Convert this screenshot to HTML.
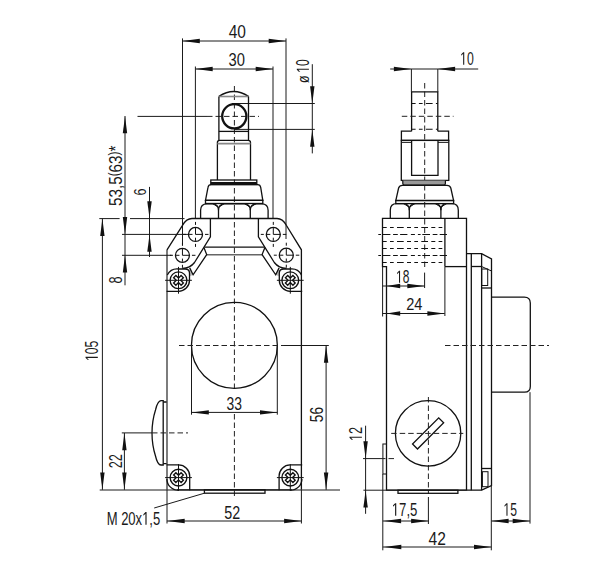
<!DOCTYPE html>
<html><head><meta charset="utf-8"><style>
html,body{margin:0;padding:0;background:#fff;}
svg{display:block;}
.k{fill:none;stroke:#111;stroke-width:1.3;}
.kb{fill:none;stroke:#111;stroke-width:1.9;}
.kc{fill:none;stroke:#111;stroke-width:2.3;}
.kp{fill:none;stroke:#111;stroke-width:1.35;}
.k1{fill:none;stroke:#111;stroke-width:1;}
.kf{fill:#999;stroke:#111;stroke-width:1.2;}
.kg{fill:none;stroke:#777;stroke-width:1.3;}
.g{fill:none;stroke:#1a1a1a;stroke-width:1;}
.kg2{fill:none;stroke:#666;stroke-width:1.5;}
.kL{fill:none;stroke:#111;stroke-width:1.1;}
.gd{fill:none;stroke:#333;stroke-width:1.2;}
.g2{fill:none;stroke:#888;stroke-width:1.6;}
.c{fill:none;stroke:#222;stroke-width:1;stroke-dasharray:5.5 3;}
.c2{fill:none;stroke:#222;stroke-width:1;stroke-dasharray:5 2.5;}
.h{fill:none;stroke:#111;stroke-width:1.1;stroke-dasharray:4 3.3 3.7 3.3 6.7 3.3;}
.h2{fill:none;stroke:#111;stroke-width:1.1;stroke-dasharray:2.7 1.7 7.7 2.7 4.7 2.3 7.3 3.5 4 3;}
.ar{fill:#111;stroke:none;}
.tp{fill:#1a1a1a;stroke:none;}
.tx{font-family:"Liberation Sans",sans-serif;font-size:100px;fill:#1a1a1a;}
</style></head><body>
<svg width="616" height="569" viewBox="0 0 616 569">
<line class="g" x1="182.5" y1="38.4" x2="182.5" y2="245.3"/>
<line class="g" x1="286.0" y1="38.4" x2="286.0" y2="239"/>
<line class="g" x1="182.5" y1="41.0" x2="286.0" y2="41.0"/>
<polygon class="ar" points="182.50,41.00 199.80,38.80 199.80,43.20"/>
<polygon class="ar" points="286.00,41.00 268.70,38.80 268.70,43.20"/>
<g transform="translate(228.69,37.60) scale(0.1552,0.1757)"><text class="tx">40</text></g>
<line class="g" x1="195.4" y1="66.5" x2="195.4" y2="218.4"/>
<line class="g" x1="273.0" y1="66.5" x2="273.0" y2="218.4"/>
<line class="g" x1="195.4" y1="69.0" x2="273.0" y2="69.0"/>
<polygon class="ar" points="195.40,69.00 212.70,66.80 212.70,71.20"/>
<polygon class="ar" points="273.00,69.00 255.70,66.80 255.70,71.20"/>
<g transform="translate(228.61,65.70) scale(0.1476,0.1757)"><text class="tx">30</text></g>
<line class="g" x1="232" y1="103.5" x2="314.8" y2="103.5"/>
<line class="g" x1="234" y1="129.4" x2="314.8" y2="129.4"/>
<line class="g" x1="312.3" y1="64.2" x2="312.3" y2="153.4"/>
<polygon class="ar" points="312.30,103.50 310.10,86.20 314.50,86.20"/>
<polygon class="ar" points="312.30,129.40 310.10,146.70 314.50,146.70"/>
<g transform="translate(308.90,72.81) rotate(-90) scale(0.1206,0.1757)"><text class="tx"> 0</text><path class="tp" d="M515 0V1237L197 1010V1180L530 1409H696V0Z" transform="translate(0.000,0) scale(0.048828,-0.048828)"/></g>
<g transform="translate(308.88,83.07) rotate(-90) scale(0.1236,0.1589)"><text class="tx">ø</text></g>
<line class="g" x1="137.5" y1="116.4" x2="207" y2="116.4"/>
<line class="c" x1="207" y1="116.4" x2="259" y2="116.4"/>
<line class="c" x1="234.4" y1="86" x2="234.4" y2="392"/>
<line class="c" x1="234.4" y1="414" x2="234.4" y2="496"/>
<path class="k" d="M218.9,96.4 Q233.7,86.6 248.5,96.4"/>
<line class="g2" x1="218.9" y1="96.5" x2="248.5" y2="96.5"/>
<path class="k" d="M218.9,96.4 V140.4 M248.5,96.4 V140.4"/>
<line class="k" x1="218.9" y1="131.4" x2="248.5" y2="131.4"/>
<path class="k" d="M217.4,180 V142.6 Q217.4,140.4 219.6,140.4 H248.3 Q250.5,140.4 250.5,142.6 V180"/>
<line class="g2" x1="217.4" y1="143.6" x2="250.5" y2="143.6"/>
<circle class="kc" cx="234.3" cy="116.3" r="12.1"/>
<rect class="k" x="210.8" y="180" width="46" height="4.5"/>
<line class="kb" x1="210.8" y1="183" x2="256.8" y2="183"/>
<path class="k" d="M205.5,200.3 L208,187.4 Q208.4,184.6 211.2,184.6 H257.5 Q260.3,184.6 260.7,187.4 L262.8,200.3 Z"/>
<rect class="k" x="205.5" y="200.3" width="57.3" height="3.2"/>
<path class="k" d="M200.6,218.4 V210.3 Q200.6,203.8 207.1,203.8 H212.0 Q218.5,203.8 218.5,210.3 V218.4"/>
<path class="k" d="M218.5,210.3 Q218.5,203.8 225.0,203.8 H243.8 Q250.3,203.8 250.3,210.3 V218.4"/>
<path class="k" d="M250.3,210.3 Q250.3,203.8 256.8,203.8 H261.6 Q268.1,203.8 268.1,210.3 V218.4"/>
<path class="k1" d="M213.0,203.8 L218.5,207.3 L224.0,203.8 M244.8,203.8 L250.3,207.3 L255.8,203.8"/>
<line class="g" x1="99.3" y1="218.6" x2="119.6" y2="218.6"/>
<line class="g" x1="130" y1="218.6" x2="184.5" y2="218.6"/>
<line class="g" x1="122" y1="234.4" x2="188.5" y2="234.4"/>
<line class="g" x1="122" y1="255.3" x2="171.5" y2="255.3"/>
<path class="k" d="M192,218.5 H277 C281.5,218.5 284,221 286.3,225.3 L301.4,249.8 V489.8"/>
<path class="kL" d="M167.0,489.8 V249.8"/>
<path class="k" d="M167.0,249.8 L182.5,225.3 C185,221 187.5,218.5 192,218.5"/>
<line class="k" x1="177" y1="489.8" x2="291.8" y2="489.8"/>
<line class="k" x1="204.6" y1="247.2" x2="264.2" y2="247.2"/>
<line class="kg2" x1="206.7" y1="254.7" x2="262.1" y2="254.7"/>
<path class="k" d="M210.4,218.5 V236.9 L194.5,262.5 Q190,268.3 182.3,268.3"/>
<polygon points="189.7,268 193.1,274.8 190,276.2" fill="#bbb" stroke="none"/>
<path class="k" d="M203.9,247.4 L206.7,254.6 L193.1,274.8 L189.7,267.9"/>
<path class="k" d="M167.3,275 A11.3,11.3 0 0 1 178.5,269 H185 Q189.5,269 189.5,273 V280.3 A11,11 0 0 1 178.5,291.3 H166.6"/>
<circle class="kp" cx="178.5" cy="280.3" r="8.4"/>
<path class="kp" d="M181.12,275.42 L183.38,277.68 L180.76,280.30 L183.38,282.92 L181.12,285.18 L178.50,282.56 L175.88,285.18 L173.62,282.92 L176.24,280.30 L173.62,277.68 L175.88,275.42 L178.50,278.04 Z"/>
<line class="k1" x1="165.1" y1="280.3" x2="191.9" y2="280.3"/>
<line class="k1" x1="178.5" y1="266.90000000000003" x2="178.5" y2="293.7"/>
<g transform="translate(468.8,0) scale(-1,1)">
<path class="k" d="M210.4,218.5 V236.9 L194.5,262.5 Q190,268.3 182.3,268.3"/>
<polygon points="189.7,268 193.1,274.8 190,276.2" fill="#bbb" stroke="none"/>
<path class="k" d="M203.9,247.4 L206.7,254.6 L193.1,274.8 L189.7,267.9"/>
<path class="k" d="M167.3,275 A11.3,11.3 0 0 1 178.5,269 H185 Q189.5,269 189.5,273 V280.3 A11,11 0 0 1 178.5,291.3 H166.6"/>
<circle class="kp" cx="178.5" cy="280.3" r="8.4"/>
<path class="kp" d="M181.12,275.42 L183.38,277.68 L180.76,280.30 L183.38,282.92 L181.12,285.18 L178.50,282.56 L175.88,285.18 L173.62,282.92 L176.24,280.30 L173.62,277.68 L175.88,275.42 L178.50,278.04 Z"/>
<line class="k1" x1="165.1" y1="280.3" x2="191.9" y2="280.3"/>
<line class="k1" x1="178.5" y1="266.90000000000003" x2="178.5" y2="293.7"/>
</g>
<circle class="k" cx="195.5" cy="234.4" r="7.0"/>
<path class="k1" d="M195.5,227.4 V234.4 H202.5"/>
<line class="k1" x1="189.1" y1="234.4" x2="192.5" y2="234.4"/>
<line class="k1" x1="195.5" y1="237.70000000000002" x2="195.5" y2="240.8"/>
<line class="k1" x1="183.0" y1="234.4" x2="186.0" y2="234.4"/>
<line class="k1" x1="205.0" y1="234.4" x2="208.5" y2="234.4"/>
<line class="k1" x1="195.5" y1="221.9" x2="195.5" y2="224.9"/>
<line class="k1" x1="195.5" y1="243.9" x2="195.5" y2="246.9"/>
<circle class="k" cx="182.45" cy="255.3" r="7.0"/>
<path class="k1" d="M182.45,248.3 V255.3 H189.45"/>
<line class="k1" x1="176.04999999999998" y1="255.3" x2="179.45" y2="255.3"/>
<line class="k1" x1="182.45" y1="258.6" x2="182.45" y2="261.7"/>
<line class="k1" x1="169.95" y1="255.3" x2="172.95" y2="255.3"/>
<line class="k1" x1="191.95" y1="255.3" x2="195.45" y2="255.3"/>
<line class="k1" x1="182.45" y1="242.8" x2="182.45" y2="245.8"/>
<line class="k1" x1="182.45" y1="264.8" x2="182.45" y2="267.8"/>
<circle class="k" cx="273.3" cy="234.4" r="7.0"/>
<path class="k1" d="M273.3,227.4 V234.4 H280.3"/>
<line class="k1" x1="266.90000000000003" y1="234.4" x2="270.3" y2="234.4"/>
<line class="k1" x1="273.3" y1="237.70000000000002" x2="273.3" y2="240.8"/>
<line class="k1" x1="260.8" y1="234.4" x2="263.8" y2="234.4"/>
<line class="k1" x1="282.8" y1="234.4" x2="286.3" y2="234.4"/>
<line class="k1" x1="273.3" y1="221.9" x2="273.3" y2="224.9"/>
<line class="k1" x1="273.3" y1="243.9" x2="273.3" y2="246.9"/>
<circle class="k" cx="286.3" cy="255.2" r="7.0"/>
<path class="k1" d="M286.3,248.2 V255.2 H293.3"/>
<line class="k1" x1="279.90000000000003" y1="255.2" x2="283.3" y2="255.2"/>
<line class="k1" x1="286.3" y1="258.5" x2="286.3" y2="261.59999999999997"/>
<line class="k1" x1="273.8" y1="255.2" x2="276.8" y2="255.2"/>
<line class="k1" x1="295.8" y1="255.2" x2="299.3" y2="255.2"/>
<line class="k1" x1="286.3" y1="242.7" x2="286.3" y2="245.7"/>
<line class="k1" x1="286.3" y1="264.7" x2="286.3" y2="267.7"/>
<circle class="k" cx="234.4" cy="345.35" r="42.95"/>
<line class="c" x1="179" y1="345.5" x2="284" y2="345.5"/>
<line class="g" x1="284" y1="345.5" x2="328.8" y2="345.5"/>
<line class="g" x1="191.5" y1="345.5" x2="191.5" y2="414.7"/>
<line class="g" x1="277.3" y1="345.5" x2="277.3" y2="414.7"/>
<line class="g" x1="191.5" y1="412.4" x2="277.3" y2="412.4"/>
<polygon class="ar" points="191.50,412.40 208.80,410.20 208.80,414.60"/>
<polygon class="ar" points="277.30,412.40 260.00,410.20 260.00,414.60"/>
<g transform="translate(226.54,409.70) scale(0.1388,0.1771)"><text class="tx">33</text></g>
<line class="g" x1="326.1" y1="345.5" x2="326.1" y2="489.8"/>
<polygon class="ar" points="326.10,345.50 323.90,362.80 328.30,362.80"/>
<polygon class="ar" points="326.10,489.80 323.90,472.50 328.30,472.50"/>
<g transform="translate(322.90,422.14) rotate(-90) scale(0.1359,0.1771)"><text class="tx">56</text></g>
<path class="k" d="M163.2,400.6 H161 Q157.5,401 155.5,410 Q152,421 152,433 Q152,445 155.5,456 Q157.5,465 161,465 H163.2 Z"/>
<path class="k" d="M163.2,402 H166.6 M163.2,463.6 H166.6"/>
<line class="g" x1="140" y1="432.9" x2="152" y2="432.9"/>
<line class="c" x1="152" y1="432.9" x2="188" y2="432.9"/>
<path class="k" d="M166.6,464.9 H178.5 A11.2,11.2 0 0 1 189.7,476.1 V490.2"/>
<path class="k" d="M166.9,478.9 A11.3,11.3 0 0 0 178.2,490.2"/>
<circle class="kp" cx="178.5" cy="477.6" r="8.4"/>
<path class="kp" d="M181.12,472.72 L183.38,474.98 L180.76,477.60 L183.38,480.22 L181.12,482.48 L178.50,479.86 L175.88,482.48 L173.62,480.22 L176.24,477.60 L173.62,474.98 L175.88,472.72 L178.50,475.34 Z"/>
<line class="k1" x1="165.1" y1="477.6" x2="191.9" y2="477.6"/>
<line class="k1" x1="178.5" y1="464.20000000000005" x2="178.5" y2="491.0"/>
<g transform="translate(468.8,0) scale(-1,1)">
<path class="k" d="M166.6,464.9 H178.5 A11.2,11.2 0 0 1 189.7,476.1 V490.2"/>
<path class="k" d="M166.9,478.9 A11.3,11.3 0 0 0 178.2,490.2"/>
<circle class="kp" cx="178.5" cy="477.6" r="8.4"/>
<path class="kp" d="M181.12,472.72 L183.38,474.98 L180.76,477.60 L183.38,480.22 L181.12,482.48 L178.50,479.86 L175.88,482.48 L173.62,480.22 L176.24,477.60 L173.62,474.98 L175.88,472.72 L178.50,475.34 Z"/>
<line class="k1" x1="165.1" y1="477.6" x2="191.9" y2="477.6"/>
<line class="k1" x1="178.5" y1="464.20000000000005" x2="178.5" y2="491.0"/>
</g>
<rect class="k" x="204.4" y="489.8" width="60.6" height="3.4"/>
<line class="g" x1="204.4" y1="493.2" x2="154.2" y2="508"/>
<g transform="translate(106.66,524.80) scale(0.1303,0.1843)"><text class="tx">M 20x ,5</text><path class="tp" d="M515 0V1237L197 1010V1180L530 1409H696V0Z" transform="translate(272.312,0) scale(0.048828,-0.048828)"/></g>
<line class="g" x1="99.7" y1="490.0" x2="340" y2="490.0"/>
<line class="g" x1="167.0" y1="489.8" x2="167.0" y2="523.5"/>
<line class="g" x1="301.4" y1="489.8" x2="301.4" y2="523.5"/>
<line class="g" x1="167.0" y1="521.0" x2="301.4" y2="521.0"/>
<polygon class="ar" points="167.40,521.00 184.70,518.80 184.70,523.20"/>
<polygon class="ar" points="301.40,521.00 284.10,518.80 284.10,523.20"/>
<g transform="translate(224.23,518.70) scale(0.1431,0.1843)"><text class="tx">52</text></g>
<line class="g" x1="102.4" y1="218.6" x2="102.4" y2="489.8"/>
<polygon class="ar" points="102.40,218.60 100.20,235.90 104.60,235.90"/>
<polygon class="ar" points="102.40,489.80 100.20,472.50 104.60,472.50"/>
<g transform="translate(97.80,361.02) rotate(-90) scale(0.1222,0.1786)"><text class="tx"> 05</text><path class="tp" d="M515 0V1237L197 1010V1180L530 1409H696V0Z" transform="translate(0.000,0) scale(0.048828,-0.048828)"/></g>
<line class="g" x1="124.4" y1="433" x2="124.4" y2="489.8"/>
<polygon class="ar" points="124.40,433.00 122.20,450.30 126.60,450.30"/>
<polygon class="ar" points="124.40,489.80 122.20,472.50 126.60,472.50"/>
<line class="g" x1="121.8" y1="432.9" x2="140" y2="432.9"/>
<g transform="translate(121.90,468.33) rotate(-90) scale(0.1267,0.1800)"><text class="tx">22</text></g>
<line class="g" x1="125.0" y1="116" x2="125.0" y2="285.3"/>
<polygon class="ar" points="125.00,116.00 122.80,133.30 127.20,133.30"/>
<polygon class="ar" points="125.00,234.40 122.80,217.10 127.20,217.10"/>
<polygon class="ar" points="125.00,255.30 122.80,272.60 127.20,272.60"/>
<g transform="translate(121.50,205.91) rotate(-90) scale(0.1523,0.1800)"><text class="tx">53,5<tspan font-size="77" dy="-15">(</tspan><tspan dy="15">63</tspan><tspan font-size="77" dy="-15">)</tspan><tspan dy="15">*</tspan></text></g>
<g transform="translate(121.90,283.41) rotate(-90) scale(0.1277,0.1771)"><text class="tx">8</text></g>
<line class="g" x1="149.5" y1="186.9" x2="149.5" y2="257"/>
<polygon class="ar" points="149.50,218.60 147.30,201.30 151.70,201.30"/>
<polygon class="ar" points="149.50,234.40 147.30,251.70 151.70,251.70"/>
<g transform="translate(145.80,195.43) rotate(-90) scale(0.1261,0.1729)"><text class="tx">6</text></g>
<line class="c" x1="424.7" y1="83" x2="424.7" y2="269"/>
<line class="c" x1="428.4" y1="397" x2="428.4" y2="494"/>
<line class="g" x1="411.4" y1="69" x2="411.4" y2="91.8"/>
<line class="g" x1="437.8" y1="69" x2="437.8" y2="91.8"/>
<line class="g" x1="390.2" y1="69.0" x2="478.2" y2="69.0"/>
<polygon class="ar" points="411.20,69.00 393.90,66.80 393.90,71.20"/>
<polygon class="ar" points="437.80,69.00 455.10,66.80 455.10,71.20"/>
<g transform="translate(460.07,64.80) scale(0.1227,0.1814)"><text class="tx"> 0</text><path class="tp" d="M515 0V1237L197 1010V1180L530 1409H696V0Z" transform="translate(0.000,0) scale(0.048828,-0.048828)"/></g>
<path class="k" d="M411.6,131.2 V91.8 H437.8 V131.2"/>
<line class="h" x1="411.6" y1="103.5" x2="437.8" y2="103.5"/>
<line class="h" x1="411.6" y1="129.3" x2="437.8" y2="129.3"/>
<line class="c" x1="401.8" y1="116.3" x2="453.5" y2="116.3"/>
<path class="k" d="M411.6,131.2 H401.4 V140.4 H448.6 V131.2 H437.8"/>
<rect class="k" x="401.3" y="140.4" width="47.5" height="40"/>
<path class="k" d="M411.6,140.4 V175.4 H438 V140.4"/>
<line class="g" x1="401.3" y1="142.4" x2="411.6" y2="142.4"/>
<line class="g" x1="438" y1="142.4" x2="448.8" y2="142.4"/>
<path class="kf" d="M402.8,180.4 V183.5 Q402.8,185.2 404.5,185.2 H443.7 Q445.4,185.2 445.4,183.5 V180.4"/>
<path class="k" d="M395.8,200.6 L398.6,188 Q399.5,185.3 402.5,185.3 H447 Q449.9,185.3 450.8,188 L453.6,200.6 Z"/>
<rect class="k" x="395.8" y="200.4" width="57.8" height="3.2"/>
<path class="k" d="M390.3,218.3 V210.2 Q390.3,203.7 396.8,203.7 H402.8 Q409.3,203.7 409.3,210.2 V218.3"/>
<path class="k" d="M409.3,210.2 Q409.3,203.7 415.8,203.7 H434.4 Q440.9,203.7 440.9,210.2 V218.3"/>
<path class="k" d="M440.9,210.2 Q440.9,203.7 447.4,203.7 H451.8 Q458.3,203.7 458.3,210.2 V218.3"/>
<path class="k1" d="M403.8,203.7 L409.3,207.2 L414.8,203.7 M435.4,203.7 L440.9,207.2 L446.4,203.7"/>
<path class="k" d="M382.5,218.4 H466.5 V490.2 H386.5 V266.6 H382.5 Z"/>
<line class="k" x1="444.9" y1="218.4" x2="444.9" y2="266.6"/>
<line class="k" x1="444.9" y1="266.6" x2="466.5" y2="266.6"/>
<line class="g" x1="444.9" y1="266.6" x2="444.9" y2="316"/>
<line class="h" x1="382.7" y1="227.5" x2="444.9" y2="227.5"/>
<line class="h" x1="382.7" y1="241.5" x2="444.9" y2="241.5"/>
<line class="h" x1="382.7" y1="248.5" x2="444.9" y2="248.5"/>
<line class="h" x1="382.7" y1="262.5" x2="444.9" y2="262.5"/>
<line class="h2" x1="378.3" y1="234.5" x2="448.7" y2="234.5"/>
<line class="h2" x1="378.3" y1="255.5" x2="448.7" y2="255.5"/>
<path class="k" d="M466.5,253.7 H481.6 L491.5,258.9 V485.5 L481.7,490.2 H466.5"/>
<line class="k" x1="471.3" y1="253.7" x2="471.3" y2="490.2"/>
<line class="k" x1="481.6" y1="253.7" x2="481.6" y2="490.2"/>
<line class="k" x1="471.3" y1="266.5" x2="481.6" y2="266.5"/>
<path class="k1" d="M481.6,266.5 L491.5,271"/>
<rect class="k1" x="481.7" y="269" width="6" height="16.5"/>
<line class="k" x1="481.6" y1="288" x2="491.5" y2="288"/>
<rect class="k1" x="482.4" y="471.7" width="5.6" height="15"/>
<line class="k" x1="481.6" y1="468.5" x2="491.5" y2="468.5"/>
<path class="k" d="M491.5,297.1 H524.3 Q530.3,297.1 530.3,303.1 V386.4 Q530.3,392.2 524.5,392.2 H491.5"/>
<line class="c" x1="445" y1="345.5" x2="549" y2="345.5"/>
<circle class="k" cx="428.1" cy="433.4" r="32.7"/>
<rect class="k" x="409.6" y="429.9" width="37" height="7" transform="rotate(-45 428.1 433.4)"/>
<line class="c" x1="391.2" y1="433.4" x2="463.3" y2="433.4"/>
<rect class="k1" x="382.9" y="444" width="3.6" height="30"/>
<line class="g" x1="363" y1="458.6" x2="380" y2="458.6"/>
<line class="c" x1="380" y1="458.6" x2="394" y2="458.6"/>
<rect class="k" x="398.0" y="490.2" width="59.9" height="3.1"/>
<line class="g" x1="363.4" y1="490.2" x2="466.5" y2="490.2"/>
<line class="g" x1="365.6" y1="425.7" x2="365.6" y2="513.8"/>
<polygon class="ar" points="365.60,458.60 363.40,441.30 367.80,441.30"/>
<polygon class="ar" points="365.60,490.20 363.40,507.50 367.80,507.50"/>
<g transform="translate(361.90,440.97) rotate(-90) scale(0.1271,0.1800)"><text class="tx"> 2</text><path class="tp" d="M515 0V1237L197 1010V1180L530 1409H696V0Z" transform="translate(0.000,0) scale(0.048828,-0.048828)"/></g>
<line class="g" x1="382.8" y1="474" x2="382.8" y2="550.3"/>
<line class="g" x1="428.4" y1="497" x2="428.4" y2="524"/>
<line class="g" x1="382.8" y1="521.0" x2="428.4" y2="521.0"/>
<polygon class="ar" points="383.80,521.00 401.10,518.80 401.10,523.20"/>
<polygon class="ar" points="428.40,521.00 411.10,518.80 411.10,523.20"/>
<g transform="translate(391.78,515.80) scale(0.1317,0.1814)"><text class="tx"> 7,5</text><path class="tp" d="M515 0V1237L197 1010V1180L530 1409H696V0Z" transform="translate(0.000,0) scale(0.048828,-0.048828)"/></g>
<line class="g" x1="491.3" y1="485" x2="491.3" y2="550.3"/>
<line class="g" x1="382.8" y1="547.0" x2="491.3" y2="547.0"/>
<polygon class="ar" points="384.00,547.00 401.30,544.80 401.30,549.20"/>
<polygon class="ar" points="491.30,547.00 474.00,544.80 474.00,549.20"/>
<g transform="translate(428.49,544.60) scale(0.1558,0.1786)"><text class="tx">42</text></g>
<line class="g" x1="530.0" y1="392.2" x2="530.0" y2="523.6"/>
<line class="g" x1="491.3" y1="521.0" x2="530.0" y2="521.0"/>
<polygon class="ar" points="491.30,521.00 508.60,518.80 508.60,523.20"/>
<polygon class="ar" points="530.00,521.00 512.70,518.80 512.70,523.20"/>
<g transform="translate(503.38,515.80) scale(0.1216,0.1814)"><text class="tx"> 5</text><path class="tp" d="M515 0V1237L197 1010V1180L530 1409H696V0Z" transform="translate(0.000,0) scale(0.048828,-0.048828)"/></g>
<line class="g" x1="382.6" y1="266.6" x2="382.6" y2="316.5"/>
<line class="g" x1="424.6" y1="272.6" x2="424.6" y2="288"/>
<line class="g" x1="382.6" y1="286.0" x2="424.6" y2="286.0"/>
<polygon class="ar" points="386.50,286.00 400.20,283.80 400.20,288.20"/>
<polygon class="ar" points="424.60,286.00 407.30,283.80 407.30,288.20"/>
<g transform="translate(396.00,282.80) scale(0.1196,0.1757)"><text class="tx"> 8</text><path class="tp" d="M515 0V1237L197 1010V1180L530 1409H696V0Z" transform="translate(0.000,0) scale(0.048828,-0.048828)"/></g>
<line class="g" x1="382.6" y1="313.5" x2="444.7" y2="313.5"/>
<polygon class="ar" points="386.50,313.50 400.20,311.30 400.20,315.70"/>
<polygon class="ar" points="444.70,313.50 427.40,311.30 427.40,315.70"/>
<g transform="translate(406.17,310.30) scale(0.1456,0.1729)"><text class="tx">24</text></g>
</svg>
</body></html>
